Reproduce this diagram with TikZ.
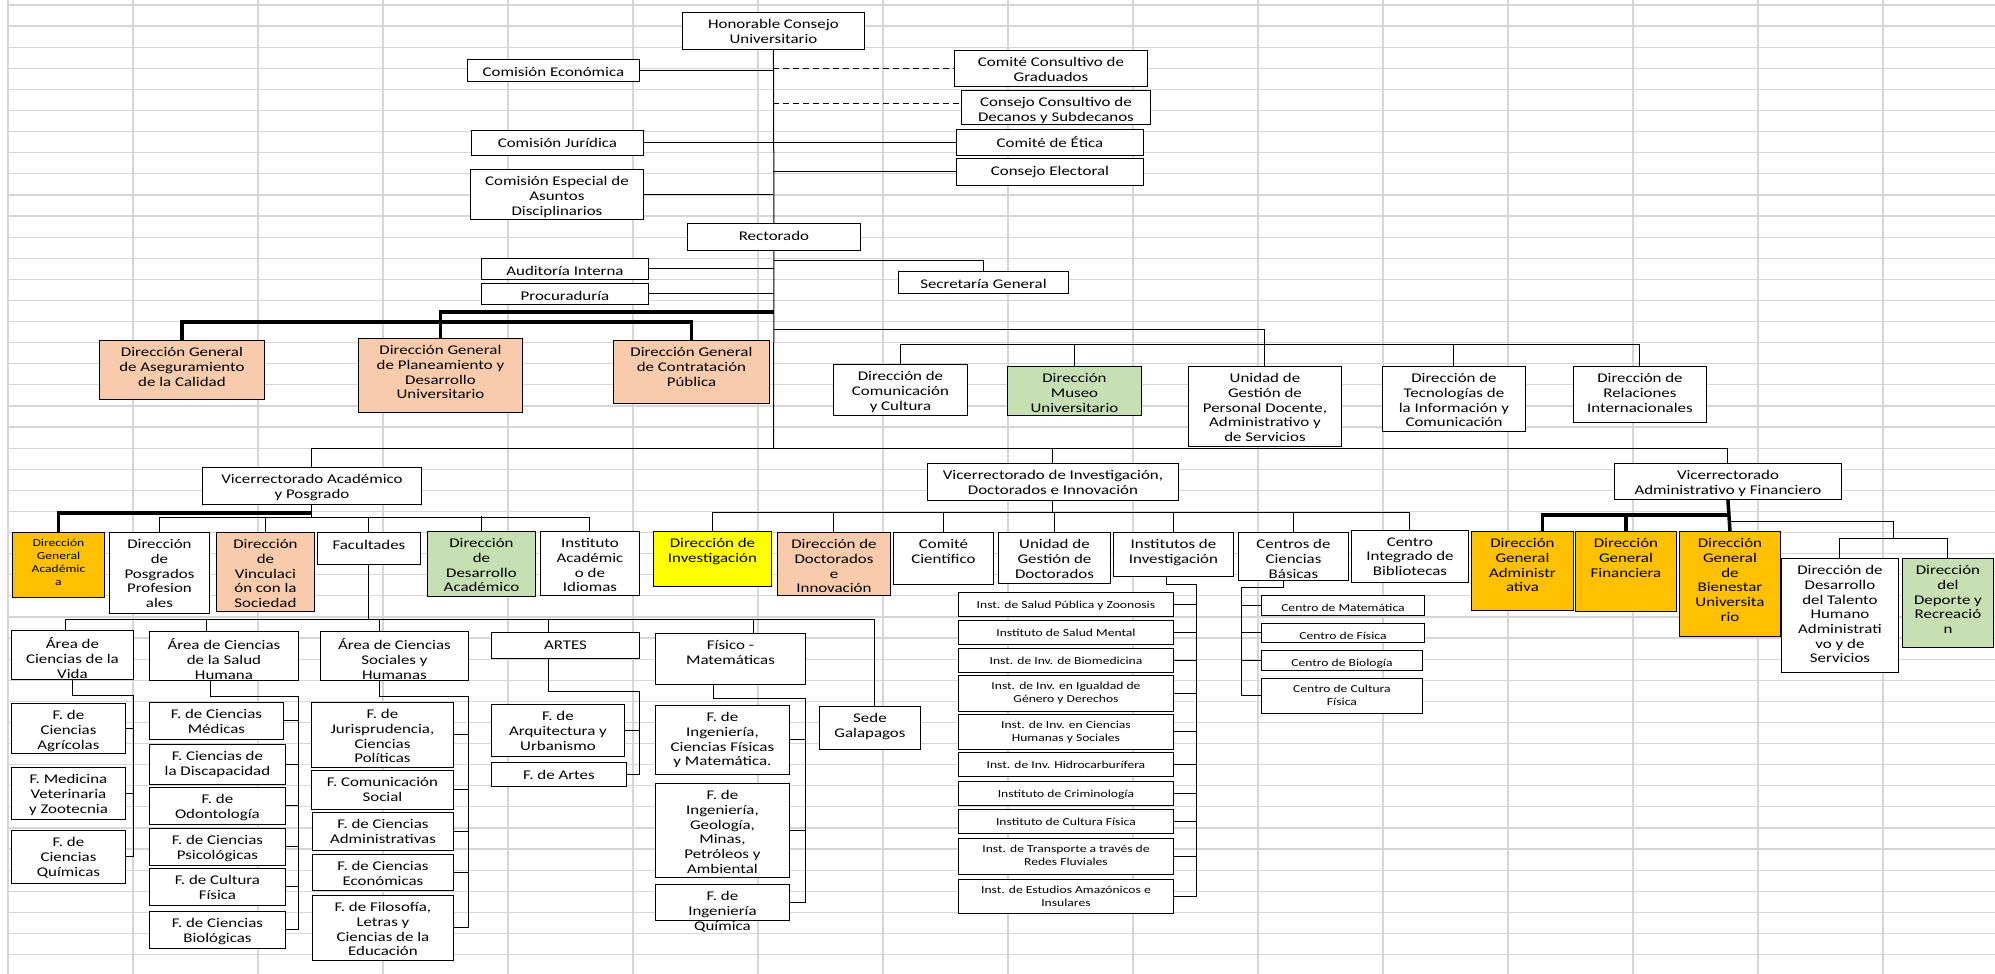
\documentclass[tikz,border=0pt]{standalone}
\usepackage{fontspec}
\setmainfont[FakeStretch=1.27]{Carlito}
\usepackage{tikz}
\usetikzlibrary{calc}
\definecolor{durazno}{HTML}{F8CBAD}
\definecolor{naranja}{HTML}{FFC000}
\definecolor{verde}{HTML}{C6E0B4}
\definecolor{amarillo}{HTML}{FFFF00}
\definecolor{gris}{HTML}{D6D6D6}
\tikzstyle{caja} = [rectangle, draw=black, line width=0.9pt, fill=white, inner sep=0pt, anchor=north west]
\tikzstyle{cajadurazno} = [caja, fill=durazno]
\tikzstyle{cajanaranja} = [caja, fill=naranja]
\tikzstyle{cajaverde} = [caja, fill=verde]
\tikzstyle{cajaamarilla} = [caja, fill=amarillo]
\tikzstyle{texto} = [anchor=north, yshift=-7.3pt, inner sep=0pt, align=center, font=\fontsize{13.3}{14.7}\selectfont, execute at begin node=\strut]
\tikzstyle{textochico} = [anchor=north, yshift=-6.8pt, inner sep=0pt, align=center, font=\fontsize{10.7}{13}\selectfont, execute at begin node=\strut]
\tikzstyle{linea} = [line width=1pt]
\tikzstyle{grueso} = [line width=3.5pt]
\tikzstyle{punteado} = [line width=1pt, dash pattern=on 6pt off 4pt]
\tikzstyle{rejilla} = [line width=1.2pt, draw=gris]

\begin{document}
\begin{tikzpicture}[x=1pt, y=-1pt]

        \useasboundingbox (0,0) rectangle (1995,974);

        \foreach \x in {8,133,...,1883} \draw[rejilla] (\x,0) -- (\x,974);
        \foreach \y in {5,26.1,...,955} \draw[rejilla] (8,\y) -- (1995,\y);

        \node (honor) [caja, minimum width=182, minimum height=37, label={[texto]north:{Honorable Consejo\\Universitario}}] at (682,12) {};
        \node (econ) [caja, minimum width=172, minimum height=22, label={[texto]north:{Comisión Económica}}] at (467,59) {};
        \node (grad) [caja, minimum width=193, minimum height=36, label={[texto]north:{Comité Consultivo de\\Graduados}}] at (954,50) {};
        \node (decan) [caja, minimum width=189, minimum height=34, label={[texto]north:{Consejo Consultivo de\\Decanos y Subdecanos}}] at (961,90) {};
        \node (jurid) [caja, minimum width=172, minimum height=25, label={[texto]north:{Comisión Jurídica}}] at (471,130) {};
        \node (etica) [caja, minimum width=187, minimum height=26, label={[texto]north:{Comité de Ética}}] at (956,129) {};
        \node (elect) [caja, minimum width=187, minimum height=27, label={[texto]north:{Consejo Electoral}}] at (956,158) {};
        \node (espec) [caja, minimum width=173, minimum height=50, label={[texto]north:{Comisión Especial de\\Asuntos\\Disciplinarios}}] at (470,169) {};
        \node (rect) [caja, minimum width=173, minimum height=27, label={[texto]north:{Rectorado}}] at (687,223) {};
        \node (audit) [caja, minimum width=167, minimum height=21, label={[texto]north:{Auditoría Interna}}] at (481,258) {};
        \node (procu) [caja, minimum width=167, minimum height=21, label={[texto]north:{Procuraduría}}] at (481,283) {};
        \node (secre) [caja, minimum width=170, minimum height=22, label={[texto]north:{Secretaría General}}] at (898,271) {};

        \draw[linea] (honor.south) -- (rect.north);
        \draw[linea] (econ.east) -- (econ.east -| honor.south);
        \draw[punteado] (honor.south |- grad.west) -- (grad.west);
        \draw[punteado] ($(decan.west -| honor.south)+(0,-4)$) -- ($(decan.west)+(0,-4)$);
        \draw[linea] (jurid.east) -- (jurid.east -| etica.west);
        \draw[linea] (elect.west) -- (elect.west -| honor.south);
        \draw[linea] (espec.east) -- (espec.east -| honor.south);
        \draw[linea] (rect.south) ++(0,10) -| (secre.north);
        \draw[linea] (audit.east) -- (audit.east -| rect.south);
        \draw[linea] (procu.east) -- (procu.east -| rect.south);

        \node (aseg) [cajadurazno, minimum width=165, minimum height=59, label={[texto]north:{Dirección General\\de Aseguramiento\\de la Calidad}}] at (99,340) {};
        \node (plan) [cajadurazno, minimum width=164, minimum height=74, label={[texto]north:{Dirección General\\de Planeamiento y\\Desarrollo\\Universitario}}] at (358,338) {};
        \node (contr) [cajadurazno, minimum width=156, minimum height=63, label={[texto]north:{Dirección General\\de Contratación\\Pública}}] at (613,340) {};

        \coordinate (nudo) at (773.5,312);
        \draw[grueso] (plan.north) |- (nudo);
        \draw[grueso] (aseg.north) -- ++(0,-18) -| (contr.north);

        \node (comu) [caja, minimum width=134, minimum height=51, label={[texto]north:{Dirección de\\Comunicación\\y Cultura}}] at (833,364) {};
        \node (museo) [cajaverde, minimum width=134, minimum height=49, label={[texto]north:{Dirección\\Museo\\Universitario}}] at (1007,366) {};
        \node (unid) [caja, minimum width=153, minimum height=80, label={[texto]north:{Unidad de\\Gestión de\\Personal Docente,\\Administrativo y\\de Servicios}}] at (1188,366) {};
        \node (tec) [caja, minimum width=143, minimum height=65, label={[texto]north:{Dirección de\\Tecnologías de\\la Información y\\Comunicación}}] at (1382,366) {};
        \node (rel) [caja, minimum width=133, minimum height=56, label={[texto]north:{Dirección de\\Relaciones\\Internacionales}}] at (1573,366) {};

        \coordinate (nudob) at (773.5,329);
        \draw[linea] (nudob) -| (unid.north);
        \draw[linea] (comu.north) -- ++(0,-20) -| (rel.north);
        \foreach \n in {museo,tec} \draw[linea] (\n.north) -- ++(0,-22);

        \node (vaca) [caja, minimum width=219, minimum height=37, label={[texto]north:{Vicerrectorado Académico\\y Posgrado}}] at (202,467) {};
        \node (vinv) [caja, minimum width=251, minimum height=37, label={[texto]north:{Vicerrectorado de Investigación,\\Doctorados e Innovación}}] at (927,463) {};
        \node (vadm) [caja, minimum width=227, minimum height=36, label={[texto]north:{Vicerrectorado\\Administrativo y Financiero}}] at (1614,463) {};

        \coordinate (hub) at (773.5,448);
        \draw[linea] (rect.south) -- (hub);
        \draw[linea] (vaca.north) -- ++(0,-19) -| (vadm.north);
        \draw[linea] (vinv.north) -- ++(0,-15);

        \node (dga) [cajanaranja, minimum width=92, minimum height=65, label={[textochico]north:{Dirección\\General\\Académic\\a}}] at (12,532) {};
        \node (posg) [caja, minimum width=100, minimum height=81, label={[texto]north:{Dirección\\de\\Posgrados\\Profesion\\ales}}] at (109,532) {};
        \node (vinc) [cajadurazno, minimum width=98, minimum height=79, label={[texto]north:{Dirección\\de\\Vinculaci\\ón con la\\Sociedad}}] at (216,532) {};
        \node (facu) [caja, minimum width=103, minimum height=32, label={[texto]north:{Facultades}}] at (317,532) {};
        \node (desa) [cajaverde, minimum width=108, minimum height=65, label={[texto]north:{Dirección\\de\\Desarrollo\\Académico}}] at (427,531) {};
        \node (idio) [caja, minimum width=99, minimum height=64, label={[texto]north:{Instituto\\Académic\\o de\\Idiomas}}] at (540,531) {};

        \draw[linea] (vaca.south) -- ++(0,13);
        \draw[linea] (posg.north) -- ++(0,-15) -| (idio.north);
        \foreach \n in {vinc,facu,desa} \draw[linea] (\n.north) -- ++(0,-15);
        \draw[grueso] (vaca.south) ++(0,8) -| (dga.north);

        \node (inve) [cajaamarilla, minimum width=118, minimum height=55, label={[texto]north:{Dirección de\\Investigación}}] at (653,531) {};
        \node (doct) [cajadurazno, minimum width=113, minimum height=63, label={[texto]north:{Dirección de\\Doctorados\\e\\Innovación}}] at (777,532) {};
        \node (comi) [caja, minimum width=100, minimum height=52, label={[texto]north:{Comité\\Científico}}] at (893,532) {};
        \node (ugd) [caja, minimum width=112, minimum height=51, label={[texto]north:{Unidad de\\Gestión de\\Doctorados}}] at (998,532) {};
        \node (inst) [caja, minimum width=120, minimum height=44, label={[texto]north:{Institutos de\\Investigación}}] at (1113,532) {};
        \node (cent) [caja, minimum width=110, minimum height=48, label={[texto]north:{Centros de\\Ciencias\\Básicas}}] at (1238,532) {};
        \node (bibl) [caja, minimum width=117, minimum height=52, label={[texto]north:{Centro\\Integrado de\\Bibliotecas}}] at (1351,530) {};

        \draw[linea] (vinv.south) -- ++(0,12);
        \draw[linea] (inve.north) -- ++(0,-19) -| (bibl.north);
        \foreach \n in {doct,comi,ugd,inst,cent} \draw[linea] (\n.north) -- ++(0,-20);

        \node (dgad) [cajanaranja, minimum width=102, minimum height=79, label={[texto]north:{Dirección\\General\\Administr\\ativa}}] at (1471,531) {};
        \node (dgfi) [cajanaranja, minimum width=101, minimum height=80, label={[texto]north:{Dirección\\General\\Financiera}}] at (1575,531) {};
        \node (dgbi) [cajanaranja, minimum width=101, minimum height=105, label={[texto]north:{Dirección\\General\\de\\Bienestar\\Universita\\rio}}] at (1679,531) {};
        \node (tale) [caja, minimum width=117, minimum height=114, label={[texto]north:{Dirección de\\Desarrollo\\del Talento\\Humano\\Administrati\\vo y de\\Servicios}}] at (1781,558) {};
        \node (depo) [cajaverde, minimum width=91, minimum height=89, label={[texto]north:{Dirección\\del\\Deporte y\\Recreació\\n}}] at (1902,558) {};

        \draw[linea] (vadm.south) ++(0,22) -| ($(tale.north)!0.5!(depo.north)+(0,-20)$);
        \draw[linea] (tale.north) -- ++(0,-20) -| (depo.north);
        \draw[grueso] (vadm.south) -- (dgbi.north);
        \draw[grueso] (vadm.south) ++(0,15) -| ([xshift=20]dgad.north);
        \draw[grueso] (dgfi.north) -- ++(0,-17);

        \node (vida) [caja, minimum width=122, minimum height=49, label={[texto]north:{Área de\\Ciencias de la\\Vida}}] at (11,630) {};
        \node (salud) [caja, minimum width=149, minimum height=49, label={[texto]north:{Área de Ciencias\\de la Salud\\Humana}}] at (149,631) {};
        \node (socia) [caja, minimum width=148, minimum height=49, label={[texto]north:{Área de Ciencias\\Sociales y\\Humanas}}] at (320,631) {};
        \node (artes) [caja, minimum width=148, minimum height=26, label={[texto]north:{ARTES}}] at (491,632) {};
        \node (fisic) [caja, minimum width=150, minimum height=51, label={[texto]north:{Físico -\\Matemáticas}}] at (655,633) {};
        \node (sede) [caja, minimum width=101, minimum height=43, label={[texto]north:{Sede\\Galapagos}}] at (819,706) {};

        \draw[linea] (facu.south) -- ++(0,55);
        \draw[linea] ([xshift=-7]vida.north) -- ++(0,-11) -| ([xshift=5]sede.north);
        \draw[linea] ([xshift=-17]salud.north) -- ++(0,-12);
        \draw[linea] ([xshift=-15]socia.north) -- ++(0,-12);
        \draw[linea] ([xshift=-17]artes.north) -- ++(0,-13);
        \draw[linea] ([xshift=23]fisic.north) -- ++(0,-14);

        \node (agri) [caja, minimum width=114, minimum height=50, label={[texto]north:{F. de\\Ciencias\\Agrícolas}}] at (11,703) {};
        \node (vete) [caja, minimum width=114, minimum height=52, label={[texto]north:{F. Medicina\\Veterinaria\\y Zootecnia}}] at (11,767) {};
        \node (quim) [caja, minimum width=114, minimum height=53, label={[texto]north:{F. de\\Ciencias\\Químicas}}] at (11,830) {};

        \draw[linea] (vida.south) -- ++(0,16) -| (vida.east |- quim.east) -- (quim.east);
        \foreach \n in {agri,vete} \draw[linea] (\n.east) -- (\n.east -| vida.east);

        \node (medi) [caja, minimum width=134, minimum height=37, label={[texto]north:{F. de Ciencias\\Médicas}}] at (149,702) {};
        \node (disc) [caja, minimum width=136, minimum height=40, label={[texto]north:{F. Ciencias de\\la Discapacidad}}] at (149,744) {};
        \node (odon) [caja, minimum width=136, minimum height=37, label={[texto]north:{F. de\\Odontología}}] at (149,787) {};
        \node (psic) [caja, minimum width=136, minimum height=37, label={[texto]north:{F. de Ciencias\\Psicológicas}}] at (149,828) {};
        \node (cult) [caja, minimum width=136, minimum height=37, label={[texto]north:{F. de Cultura\\Física}}] at (149,868) {};
        \node (biol) [caja, minimum width=136, minimum height=37, label={[texto]north:{F. de Ciencias\\Biológicas}}] at (149,911) {};

        \draw[linea] ([xshift=-13]salud.south) -- ++(0,16) -| (salud.east |- biol.east) -- (biol.east);
        \foreach \n in {medi,disc,odon,psic,cult} \draw[linea] (\n.east) -- (\n.east -| salud.east);

        \node (juri) [caja, minimum width=142, minimum height=65, label={[texto]north:{F. de\\Jurisprudencia,\\Ciencias\\Políticas}}] at (311,702) {};
        \node (comS) [caja, minimum width=142, minimum height=39, label={[texto]north:{F. Comunicación\\Social}}] at (311,770) {};
        \node (admi) [caja, minimum width=141, minimum height=38, label={[texto]north:{F. de Ciencias\\Administrativas}}] at (312,812) {};
        \node (econF) [caja, minimum width=141, minimum height=36, label={[texto]north:{F. de Ciencias\\Económicas}}] at (312,854) {};
        \node (filo) [caja, minimum width=141, minimum height=65, label={[texto]north:{F. de Filosofía,\\Letras y\\Ciencias de la\\Educación}}] at (312,895) {};

        \draw[linea] ([xshift=-15]socia.south) -- ++(0,16) -| (socia.east |- filo.east) -- (filo.east);
        \foreach \n in {juri,comS,admi,econF} \draw[linea] (\n.east) -- (\n.east -| socia.east);

        \node (arqu) [caja, minimum width=133, minimum height=52, label={[texto]north:{F. de\\Arquitectura y\\Urbanismo}}] at (491,704) {};
        \node (fart) [caja, minimum width=135, minimum height=24, label={[texto]north:{F. de Artes}}] at (491,762) {};

        \draw[linea] ([xshift=-17]artes.south) -- ++(0,33) -| (artes.east |- fart.east) -- (fart.east);
        \draw[linea] (arqu.east) -- (arqu.east -| artes.east);

        \node (ingF) [caja, minimum width=134, minimum height=69, label={[texto]north:{F. de\\Ingeniería,\\Ciencias Físicas\\y Matemática.}}] at (655,705) {};
        \node (geol) [caja, minimum width=134, minimum height=94, label={[texto]north:{F. de\\Ingeniería,\\Geología,\\Minas,\\Petróleos y\\Ambiental}}] at (655,783) {};
        \node (ingQ) [caja, minimum width=134, minimum height=36, label={[texto]north:{F. de\\Ingeniería\\Química}}] at (655,884) {};

        \draw[linea] ([xshift=-17]fisic.south) -- ++(0,14) -| (fisic.east |- ingQ.east) -- (ingQ.east);
        \foreach \n in {ingF,geol} \draw[linea] (\n.east) -- (\n.east -| fisic.east);

        \node (i1) [caja, minimum width=215, minimum height=24, label={[textochico]north:{Inst. de Salud Pública y Zoonosis}}] at (958,592) {};
        \node (i2) [caja, minimum width=215, minimum height=24, label={[textochico]north:{Instituto de Salud Mental}}] at (958,620) {};
        \node (i3) [caja, minimum width=215, minimum height=24, label={[textochico]north:{Inst. de Inv. de Biomedicina}}] at (958,648) {};
        \node (i4) [caja, minimum width=215, minimum height=36, label={[textochico]north:{Inst. de Inv. en Igualdad de\\Género y Derechos}}] at (958,675) {};
        \node (i5) [caja, minimum width=215, minimum height=35, label={[textochico]north:{Inst. de Inv. en Ciencias\\Humanas y Sociales}}] at (958,714) {};
        \node (i6) [caja, minimum width=215, minimum height=24, label={[textochico]north:{Inst. de Inv. Hidrocarburífera}}] at (958,752) {};
        \node (i7) [caja, minimum width=215, minimum height=24, label={[textochico]north:{Instituto de Criminología}}] at (958,781) {};
        \node (i8) [caja, minimum width=215, minimum height=24, label={[textochico]north:{Instituto de Cultura Física}}] at (958,809) {};
        \node (i9) [caja, minimum width=215, minimum height=36, label={[textochico]north:{Inst. de Transporte a través de\\Redes Fluviales}}] at (958,838) {};
        \node (i10) [caja, minimum width=215, minimum height=34, label={[textochico]north:{Inst. de Estudios Amazónicos e\\Insulares}}] at (958,879) {};

        \draw[linea] ([xshift=-7]inst.south) -- ++(0,8) -| ($(i10.east)+(23,0)$) -- (i10.east);
        \foreach \n in {i1,i2,i3,i4,i5,i6,i7,i8,i9} \draw[linea] (\n.east) -- ++(23,0);

        \node (c1) [caja, minimum width=163, minimum height=20, label={[textochico]north:{Centro de Matemática}}] at (1261,595) {};
        \node (c2) [caja, minimum width=163, minimum height=19, label={[textochico]north:{Centro de Física}}] at (1261,623) {};
        \node (c3) [caja, minimum width=161, minimum height=20, label={[textochico]north:{Centro de Biología}}] at (1261,650) {};
        \node (c4) [caja, minimum width=161, minimum height=35, label={[textochico]north:{Centro de Cultura\\Física}}] at (1261,678) {};

        \draw[linea] ([xshift=-10]cent.south) -- ++(0,7) -| ($(c4.west)+(-20,0)$) -- (c4.west);
        \foreach \n in {c1,c2,c3} \draw[linea] (\n.west) -- ++(-20,0);

\end{tikzpicture}
\end{document}
